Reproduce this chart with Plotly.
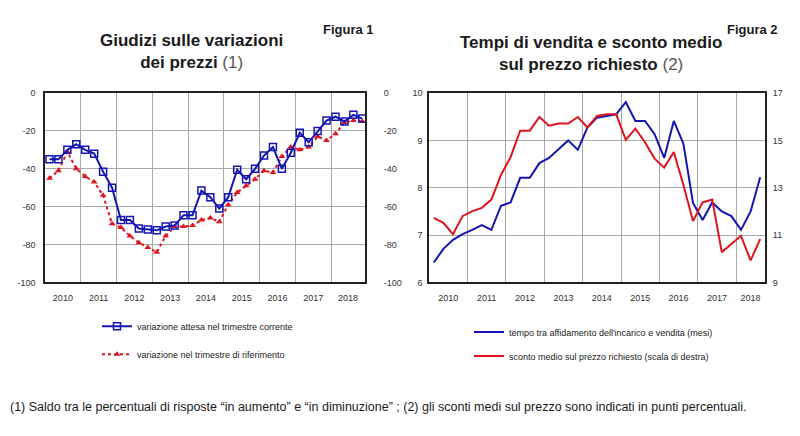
import plotly.graph_objects as go

# ---------------------------------------------------------------------------
# Data (quarterly)
# ---------------------------------------------------------------------------
YEARS_LEFT = list(range(2010, 2019))          # 2010Q1 .. 2018Q4
YEARS_RIGHT = list(range(2010, 2019))         # 2010Q1 .. 2018Q3

# Figura 1 - saldo giudizi
attesa_corrente = [-35, -35, -30, -27, -30, -32, -41.5, -50,
                   -67, -67, -71.5, -72, -72.5, -70.5, -70, -64.5,
                   -64.5, -51.5, -55, -61, -55, -40.5, -45.5, -40,
                   -33, -28.5, -40, -31.5, -21, -26, -20, -14.5,
                   -12.5, -15, -11.5, -13.5]
trimestre_riferimento = [-45, -41, -31, -40, -44, -47, -54, -69,
                         -71, -75.5, -79, -81.5, -84, -75.5, -70.5, -70.5,
                         -70, -67, -66, -68, -59, -52.5, -49, -45.5,
                         -41, -42, -33.5, -28.5, -30, -28.5, -23, -25,
                         -21.5, -15.5, -14.5, -15]
saldo_ticks = [-100, -80, -60, -40, -20, 0]

# Figura 2 - mesi di vendita (sx) e sconto medio (dx)
tempo_vendita = [6.42, 6.71, 6.90, 7.02, 7.11, 7.21, 7.11, 7.62,
                 7.69, 8.21, 8.21, 8.52, 8.63, 8.82, 9.00, 8.80,
                 9.27, 9.48, 9.51, 9.55, 9.81, 9.41, 9.41, 9.13,
                 8.63, 9.41, 8.93, 7.68, 7.32, 7.69, 7.50, 7.40,
                 7.11, 7.50, 8.22]
sconto_medio = [11.73, 11.52, 11.04, 11.80, 12.01, 12.15, 12.50, 13.54,
                14.30, 15.41, 15.41, 15.99, 15.62, 15.71, 15.71, 15.99,
                15.55, 16.03, 16.10, 16.10, 15.02, 15.50, 14.92, 14.23,
                13.85, 14.51, 13.12, 11.59, 12.38, 12.50, 10.28, 10.62,
                10.97, 9.93, 10.83]

# quarter mid-points as decimal years
x_left = [y + (q - 0.5) / 4 for y in YEARS_LEFT for q in range(1, 5)][:len(attesa_corrente)]
x_right = [y + (q - 0.5) / 4 for y in YEARS_RIGHT for q in range(1, 5)][:len(tempo_vendita)]

BLUE = "#1414b4"
RED = "#e0141e"
GRID = "#a8a8a8"
FRAME = "#222222"
TXT = "#1a1a1a"
FONT = "Liberation Sans, Arial, sans-serif"

LEFT_RANGE = [2010, 2018.95]
RIGHT_RANGE = [2010, 2018.75]

# the page body has an 8px margin: size the figure to fit inside it and
# express layout positions as window pixels
_W, _H, _OFF = 784, 420, 8


def _px(x):
    return (x - _OFF) / _W


def _py(y):
    return 1 - (y - _OFF) / _H


Y_DOMAIN = [_py(284), _py(90)]


def _year_ticks(years, xrange):
    """Year labels centred on the visible part of each year."""
    vals = [(max(y, xrange[0]) + min(y + 1, xrange[1])) / 2 for y in years]
    return vals, [str(y) for y in years]


fig = go.Figure()

fig.add_trace(go.Scatter(
    x=x_left, y=trimestre_riferimento, xaxis="x", yaxis="y",
    mode="lines+markers", name="variazione nel trimestre di riferimento",
    line={"color": RED, "width": 2, "dash": "dot"},
    marker={"symbol": "triangle-up", "size": 6, "color": RED},
    legend="legend", legendgroup="rif", legendrank=2,
))
fig.add_trace(go.Scatter(
    x=x_left, y=attesa_corrente, xaxis="x", yaxis="y2",
    mode="lines+markers", name="variazione attesa nel trimestre corrente",
    line={"color": BLUE, "width": 2},
    marker={"symbol": "square-open", "size": 7, "color": BLUE, "line": {"width": 1.5}},
    legend="legend", legendgroup="att", legendrank=1,
))
fig.add_trace(go.Scatter(
    x=x_right, y=tempo_vendita, xaxis="x2", yaxis="y3",
    mode="lines", name="tempo tra affidamento dell'incarico e vendita (mesi)",
    line={"color": BLUE, "width": 2},
    legend="legend2", legendgroup="tempo", legendrank=1,
))
fig.add_trace(go.Scatter(
    x=x_right, y=sconto_medio, xaxis="x2", yaxis="y4",
    mode="lines", name="sconto medio sul prezzo richiesto (scala di destra)",
    line={"color": RED, "width": 2},
    legend="legend2", legendgroup="sconto", legendrank=2,
))

lt_vals, lt_text = _year_ticks(YEARS_LEFT, LEFT_RANGE)
rt_vals, rt_text = _year_ticks(YEARS_RIGHT, RIGHT_RANGE)
saldo_text = [str(v) for v in saldo_ticks]   # plain hyphen, as in the source

tick_font = {"size": 9, "color": "#333333", "family": FONT}
hidden_ticks = {"ticks": "outside", "tickcolor": "rgba(0,0,0,0)"}

x_common = dict(
    tickmode="array", showgrid=False, zeroline=False,
    showline=True, linecolor=FRAME, linewidth=1.5, mirror=True,
    tickfont=tick_font, ticklen=6, **hidden_ticks,
)

fig.update_layout(
    width=_W, height=_H,
    margin={"l": 0, "r": 0, "t": 0, "b": 0},
    paper_bgcolor="white", plot_bgcolor="white",
    font={"family": FONT, "color": TXT},
    xaxis=dict(
        x_common, domain=[_px(45), _px(365)], anchor="y", range=LEFT_RANGE,
        tickvals=lt_vals, ticktext=lt_text,
        minor={"tickmode": "array", "tickvals": YEARS_LEFT[1:], "showgrid": True,
               "gridcolor": GRID, "gridwidth": 1, "ticks": ""},
    ),
    yaxis=dict(
        domain=Y_DOMAIN, anchor="x", range=[-100, 0],
        tickmode="array", tickvals=saldo_ticks, ticktext=saldo_text,
        showgrid=True, gridcolor=GRID, gridwidth=1, zeroline=False,
        showline=True, linecolor=FRAME, linewidth=1.5, mirror=True,
        tickfont=tick_font, ticklen=6, **hidden_ticks,
    ),
    yaxis2=dict(
        overlaying="y", side="right", anchor="x", range=[-100, 0],
        tickmode="array", tickvals=saldo_ticks, ticktext=saldo_text,
        showgrid=False, zeroline=False, showline=False,
        tickfont=tick_font, ticklen=16, **hidden_ticks,
    ),
    xaxis2=dict(
        x_common, domain=[_px(429), _px(765)], anchor="y3", range=RIGHT_RANGE,
        tickvals=rt_vals, ticktext=rt_text,
        minor={"tickmode": "array", "tickvals": YEARS_RIGHT[1:], "showgrid": True,
               "gridcolor": GRID, "gridwidth": 1, "ticks": ""},
    ),
    yaxis3=dict(
        domain=Y_DOMAIN, anchor="x2", range=[6, 10], dtick=1, tick0=6,
        showgrid=True, gridcolor=GRID, gridwidth=1, zeroline=False,
        showline=True, linecolor=FRAME, linewidth=1.5, mirror=True,
        tickfont=tick_font, ticklen=3, **hidden_ticks,
    ),
    yaxis4=dict(
        overlaying="y3", side="right", anchor="x2", range=[9, 17], dtick=2, tick0=9,
        showgrid=False, zeroline=False, showline=False,
        tickfont=tick_font, ticklen=5, **hidden_ticks,
    ),
    legend=dict(
        x=_px(97), y=_py(314), xanchor="left", yanchor="top",
        traceorder="grouped", tracegroupgap=9,
        font={"size": 9, "color": TXT, "family": FONT},
        bgcolor="rgba(0,0,0,0)",
    ),
    legend2=dict(
        x=_px(469), y=_py(320), xanchor="left", yanchor="top",
        traceorder="grouped", tracegroupgap=5,
        font={"size": 9, "color": TXT, "family": FONT},
        bgcolor="rgba(0,0,0,0)",
    ),
    showlegend=True,
)

title_font = {"size": 17, "color": TXT, "family": FONT}
fig.add_annotation(
    text="<b>Giudizi sulle variazioni<br>dei prezzi</b> <span style='color:#555555'>(1)</span>",
    x=_px(191), y=_py(47), xref="paper", yref="paper", xanchor="center", yanchor="middle",
    showarrow=False, font=title_font, align="center",
)
fig.add_annotation(
    text="<b>Tempi di vendita e sconto medio<br>sul prezzo richiesto</b> <span style='color:#555555'>(2)</span>",
    x=_px(591), y=_py(50), xref="paper", yref="paper", xanchor="center", yanchor="middle",
    showarrow=False, font=title_font, align="center",
)
fig.add_annotation(
    text="<b>Figura 1</b>", x=_px(348), y=_py(25), xref="paper", yref="paper",
    xanchor="center", yanchor="middle", showarrow=False,
    font={"size": 13, "color": TXT, "family": FONT},
)
fig.add_annotation(
    text="<b>Figura 2</b>", x=_px(752), y=_py(25), xref="paper", yref="paper",
    xanchor="center", yanchor="middle", showarrow=False,
    font={"size": 13, "color": TXT, "family": FONT},
)
fig.add_annotation(
    text="(1) Saldo tra le percentuali di risposte “in aumento” e “in diminuzione” ; "
         "(2) gli sconti medi sul prezzo sono indicati in punti percentuali.",
    x=0, y=_py(412), xref="paper", yref="paper", xanchor="left", yanchor="middle",
    showarrow=False, font={"size": 12.5, "color": TXT, "family": FONT},
)

fig.write_html("out.html")
